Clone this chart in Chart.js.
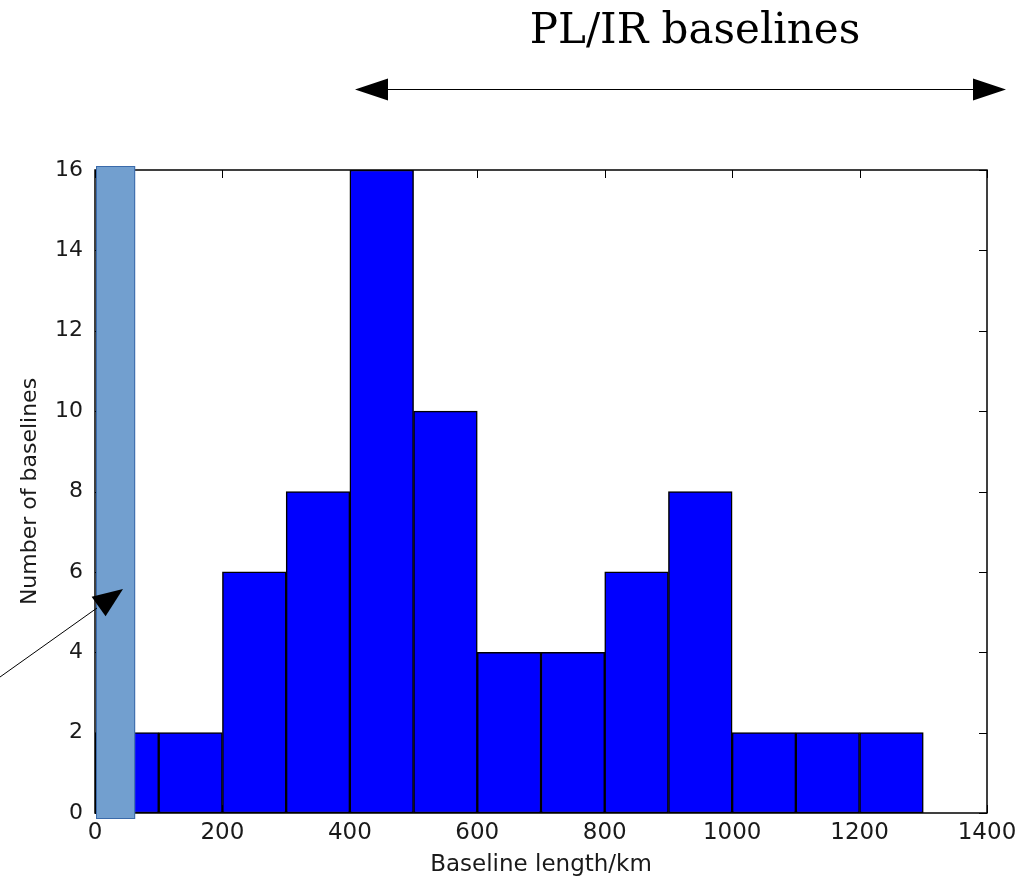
<!DOCTYPE html>
<html>
<head>
<meta charset="utf-8">
<script src="https://cdn.jsdelivr.net/npm/chart.js@4/dist/chart.umd.min.js"></script>
<style>
  html, body { margin: 0; padding: 0; background: #fff; }
  #wrap { width: 1032px; height: 879px; position: relative; }
</style>
</head>
<body>
<div id="wrap"><canvas id="mycanvas"></canvas></div>
<script>
// histogram bins (km) and counts
var binStart = [0, 100, 200, 300, 400, 500, 600, 700, 800, 900, 1000, 1100, 1200];
var counts   = [2, 2, 6, 8, 16, 10, 4, 4, 6, 8, 2, 2, 2];
var binWidth = 100;
var xTicks = [0, 200, 400, 600, 800, 1000, 1200, 1400];
var yTicks = [0, 2, 4, 6, 8, 10, 12, 14, 16];
var bandEnd = 63;   // km covered by the shaded band
var titleText = "PL/IR baselines";

var points = [];
for (var i in binStart) {
  points.push({x: binStart[i] + binWidth / 2, y: counts[i]});
}

function arrowHead(ctx, tipX, tipY, fromX, fromY, len, half) {
  var a = Math.atan2(tipY - fromY, tipX - fromX);
  var bx = tipX - Math.cos(a) * len, by = tipY - Math.sin(a) * len;
  ctx.beginPath();
  ctx.moveTo(tipX, tipY);
  ctx.lineTo(bx + Math.sin(a) * half, by - Math.cos(a) * half);
  ctx.lineTo(bx - Math.sin(a) * half, by + Math.cos(a) * half);
  ctx.closePath();
  ctx.fill();
}

var frame = {
  id: 'frame',
  beforeDatasetsDraw: function(chart) {
    var ctx = chart.ctx, a = chart.chartArea;
    var xs = chart.scales.x, ys = chart.scales.y;
    ctx.save();
    ctx.strokeStyle = '#000';
    ctx.lineWidth = 1.5;
    ctx.strokeRect(a.left, a.top, a.right - a.left, a.bottom - a.top);
    ctx.lineWidth = 1;
    ctx.beginPath();
    xTicks.forEach(function(v) {
      var p = Math.round(xs.getPixelForValue(v)) + 0.5;
      ctx.moveTo(p, a.bottom); ctx.lineTo(p, a.bottom - 8);
      ctx.moveTo(p, a.top); ctx.lineTo(p, a.top + 8);
    });
    yTicks.forEach(function(v) {
      var p = Math.round(ys.getPixelForValue(v)) + 0.5;
      ctx.moveTo(a.left, p); ctx.lineTo(a.left + 8, p);
      ctx.moveTo(a.right, p); ctx.lineTo(a.right - 8, p);
    });
    ctx.stroke();
    ctx.restore();
  },
  afterDraw: function(chart) {
    var ctx = chart.ctx, a = chart.chartArea;
    var xs = chart.scales.x;
    ctx.save();
    // shaded band over the short baselines
    var l = xs.getPixelForValue(0) + 1, r = xs.getPixelForValue(bandEnd);
    ctx.fillStyle = '#729fcf';
    ctx.strokeStyle = '#3a6aaa';
    ctx.lineWidth = 1;
    ctx.fillRect(l, a.top - 4, r - l, a.bottom - a.top + 10);
    ctx.strokeRect(l + 0.5, a.top - 3.5, r - l - 1, a.bottom - a.top + 9);

    // pointer arrow to the band
    ctx.strokeStyle = '#000';
    ctx.fillStyle = '#000';
    ctx.beginPath();
    ctx.moveTo(0, 677); ctx.lineTo(97, 608);
    ctx.stroke();
    arrowHead(ctx, 123, 589, 0, 677, 30, 12);

    // double arrow above the plot
    ctx.beginPath();
    ctx.moveTo(385, 89.5); ctx.lineTo(975, 89.5);
    ctx.stroke();
    arrowHead(ctx, 355, 89.5, 1006, 89.5, 33, 11);
    arrowHead(ctx, 1006, 89.5, 355, 89.5, 33, 11);

    ctx.font = '42px "DejaVu Serif"';
    ctx.textAlign = 'center';
    ctx.textBaseline = 'alphabetic';
    ctx.fillText(titleText, 695, 43);
    ctx.restore();
  }
};

function plain(v) { return String(v); }

var ctx = document.getElementById('mycanvas');
var chart = new Chart(ctx, {
  type: 'bar',
  data: {
    datasets: [{
      data: points,
      backgroundColor: '#0000ff',
      borderColor: '#000',
      borderWidth: 1.5,
      borderSkipped: false,
      barPercentage: 1,
      categoryPercentage: 1
    }]
  },
  options: {
    responsive: true,
    maintainAspectRatio: false,
    animation: false,
    layout: { padding: { top: 170, right: 45, left: 0, bottom: 0 } },
    plugins: { legend: { display: false }, tooltip: { enabled: false } },
    scales: {
      x: {
        type: 'linear',
        offset: false,
        min: 0, max: 1400,
        grid: { display: false, drawTicks: false, offset: false },
        border: { display: false },
        afterFit: function(s) { s.height = 66; },
        afterBuildTicks: function(s) { s.ticks = xTicks.map(function(v) { return {value: v}; }); },
        ticks: { padding: 6, color: '#1a1a1a', font: { family: 'DejaVu Sans', size: 23 }, maxRotation: 0, callback: plain },
        title: { display: true, text: 'Baseline length/km', color: '#1a1a1a', font: { family: 'DejaVu Sans', size: 23 }, padding: 0 }
      },
      y: {
        min: 0, max: 16,
        grid: { display: false, drawTicks: false },
        border: { display: false },
        afterFit: function(s) { s.width = 95; },
        afterBuildTicks: function(s) { s.ticks = yTicks.map(function(v) { return {value: v}; }); },
        ticks: { padding: 12, color: '#1a1a1a', font: { family: 'DejaVu Sans', size: 22 }, callback: plain },
        title: { display: true, text: 'Number of baselines', color: '#1a1a1a', font: { family: 'DejaVu Sans', size: 22 }, padding: { top: 17, bottom: 0 } }
      }
    }
  },
  plugins: [frame]
});
</script>
</body>
</html>
